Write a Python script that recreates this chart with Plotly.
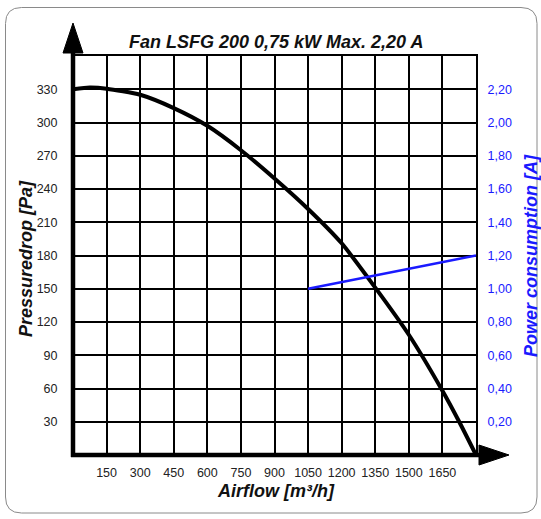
import plotly.graph_objects as go

# ---- data ----
airflow = [0, 75, 150, 300, 450, 600, 750, 900, 1050, 1200, 1350, 1500, 1650, 1725, 1800]
pressure = [330, 331.5, 330.5, 325, 313, 297, 275, 249.5, 222, 191, 151, 108.5, 58, 30, 0]
power_x = [1050, 1800]
power_a = [1.00, 1.20]

x_ticks = [150, 300, 450, 600, 750, 900, 1050, 1200, 1350, 1500, 1650]
y_ticks = [30, 60, 90, 120, 150, 180, 210, 240, 270, 300, 330]
y2_ticks = [0.2, 0.4, 0.6, 0.8, 1.0, 1.2, 1.4, 1.6, 1.8, 2.0, 2.2]
y2_text = ["0,20", "0,40", "0,60", "0,80", "1,00", "1,20", "1,40", "1,60", "1,80", "2,00", "2,20"]

title = "Fan LSFG 200 0,75 kW Max. 2,20 A"
x_title = "Airflow [m³/h]"
y_title = "Pressuredrop [Pa]"
y2_title = "Power consumption [A]"

W, H = 541, 519
L, R, T, B = 73, 65, 56, 64
PW, PH = W - L - R, H - T - B


def px(x):
    return (x - L) / PW


def py(y):
    return (H - B - y) / PH


FONT = "Liberation Sans, Arial, sans-serif"
BLUE = "#1a1aff"

fig = go.Figure()
fig.add_trace(go.Scatter(x=airflow, y=pressure, mode="lines",
                         line=dict(color="black", width=4, shape="spline", smoothing=0.6),
                         showlegend=False, hoverinfo="skip"))
fig.add_trace(go.Scatter(x=power_x, y=power_a, mode="lines", yaxis="y2",
                         line=dict(color=BLUE, width=2.5),
                         showlegend=False, hoverinfo="skip"))

tickfont = dict(family=FONT, size=12.5, color="#222")

fig.update_layout(
    width=W, height=H,
    margin=dict(l=L, r=R, t=T, b=B),
    paper_bgcolor="white", plot_bgcolor="white",
    xaxis=dict(range=[0, 1800], tickvals=x_ticks, showgrid=True, gridcolor="black", gridwidth=2,
               zeroline=False, showline=True, mirror=True, linecolor="black", linewidth=2,
               ticks="outside", ticklen=5, tickcolor="rgba(0,0,0,0)", tickfont=tickfont),
    yaxis=dict(range=[0, 360], tickvals=y_ticks, showgrid=True, gridcolor="black", gridwidth=2,
               zeroline=False, showline=True, mirror=True, linecolor="black", linewidth=2,
               ticks="outside", ticklen=11, tickcolor="rgba(0,0,0,0)", tickfont=tickfont),
    yaxis2=dict(range=[0, 2.4], overlaying="y", side="right", tickvals=y2_ticks, ticktext=y2_text,
                showgrid=False, zeroline=False, showline=False,
                ticks="outside", ticklen=8, tickcolor="rgba(0,0,0,0)",
                tickfont=dict(family=FONT, size=12.5, color=BLUE)),
)

shapes = []
# rounded border
x0, y0, x1, y1, r = 5.5, 7.5, 537, 513, 16
path = (f"M {px(x0+r)},{py(y0)} L {px(x1-r)},{py(y0)} Q {px(x1)},{py(y0)} {px(x1)},{py(y0+r)} "
        f"L {px(x1)},{py(y1-r)} Q {px(x1)},{py(y1)} {px(x1-r)},{py(y1)} "
        f"L {px(x0+r)},{py(y1)} Q {px(x0)},{py(y1)} {px(x0)},{py(y1-r)} "
        f"L {px(x0)},{py(y0+r)} Q {px(x0)},{py(y0)} {px(x0+r)},{py(y0)} Z")
shapes.append(dict(type="path", xref="paper", yref="paper", path=path,
                   line=dict(color="#8a8a8a", width=1), layer="below"))
# thick axes with arrows
shapes.append(dict(type="line", xref="paper", yref="paper", x0=px(73), y0=py(457), x1=px(73), y1=py(50),
                   line=dict(color="black", width=4.5)))
shapes.append(dict(type="path", xref="paper", yref="paper",
                   path=f"M {px(63)},{py(53)} L {px(83)},{py(53)} L {px(73)},{py(23)} Z",
                   fillcolor="black", line=dict(color="black", width=1)))
shapes.append(dict(type="line", xref="paper", yref="paper", x0=px(71), y0=py(455), x1=px(482), y1=py(455),
                   line=dict(color="black", width=4.5)))
shapes.append(dict(type="path", xref="paper", yref="paper",
                   path=f"M {px(479)},{py(445)} L {px(479)},{py(465)} L {px(509)},{py(455)} Z",
                   fillcolor="black", line=dict(color="black", width=1)))
fig.update_layout(shapes=shapes)

tfont = dict(family=FONT, size=18, color="#111")
ann = [
    dict(text=f"<b><i>{title}</i></b>", x=px(276), y=py(42), font=tfont),
    dict(text=f"<b><i>{x_title}</i></b>", x=px(276), y=py(491), font=tfont),
    dict(text=f"<b><i>{y_title}</i></b>", x=px(26), y=py(259), font=tfont, textangle=-90),
    dict(text=f"<b><i>{y2_title}</i></b>", x=px(531), y=py(256),
         font=dict(family=FONT, size=18, color=BLUE), textangle=-90),
]
for a in ann:
    a.update(xref="paper", yref="paper", showarrow=False, xanchor="center", yanchor="middle")
fig.update_layout(annotations=ann)

fig.write_html("out.html", config={"displayModeBar": False},
               post_script="document.body.style.margin='0';document.body.style.overflow='hidden';")
